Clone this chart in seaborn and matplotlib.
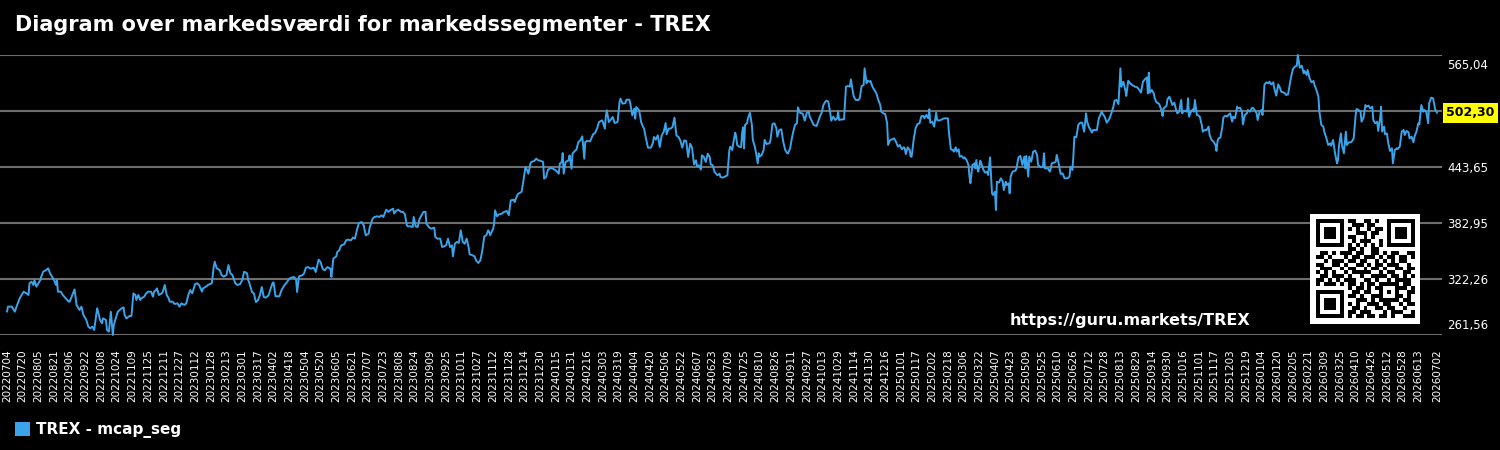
import numpy as np
import pandas as pd
import matplotlib
matplotlib.use("Agg")
import matplotlib.pyplot as plt
import matplotlib.transforms as mtransforms
import seaborn as sns
from matplotlib.patches import Patch

# Market cap readings: (day offset from start, value)
start = pd.Timestamp("2022-07-04")
end = pd.Timestamp("2026-07-02")

seg_1 = [(0, 286.8), (1, 292.3), (5, 292.3), (8, 286.8), (10, 293.0), (13, 301.3), (17, 308.5), (20, 306.7),
         (22, 304.9), (23, 317.6), (25, 319.4), (27, 315.8), (28, 321.2), (30, 313.9), (32, 317.6), (34, 321.2),
         (35, 324.8), (37, 330.2), (40, 332.0), (42, 333.8), (44, 328.4), (46, 324.8), (48, 321.2), (50, 315.8),
         (51, 321.2), (52, 308.5), (55, 308.5), (57, 304.9), (60, 301.3), (63, 297.7), (64, 297.7), (66, 303.1),
         (68, 308.5), (69, 311.0), (71, 294.1), (74, 288.7), (76, 292.3), (78, 283.2), (81, 277.8), (83, 270.6),
         (85, 268.8), (87, 270.6), (89, 267.0), (92, 290.5), (93, 286.8), (95, 277.8), (97, 274.2), (98, 279.6),
         (101, 277.8), (102, 267.0), (104, 265.2), (106, 286.8), (108, 261.56), (109, 272.4), (111, 279.6),
         (113, 286.8), (115, 288.7), (117, 290.5), (119, 291.5), (120, 283.2), (122, 279.6), (125, 282.2),
         (127, 282.2), (129, 306.7), (131, 304.9), (132, 299.5), (134, 304.9), (136, 299.5), (137, 301.3),
         (140, 303.1), (142, 306.7), (144, 308.5), (147, 308.5), (149, 303.1), (150, 308.5), (152, 310.3),
         (153, 312.1), (155, 304.9), (158, 306.7), (159, 308.5), (161, 315.8), (163, 304.9), (165, 301.3),
         (166, 297.7), (169, 297.7), (171, 295.2), (174, 295.9), (176, 292.3), (178, 295.9), (181, 294.1),
         (183, 295.9), (185, 304.9), (187, 310.3), (189, 306.7), (192, 316.8), (194, 317.6), (196, 315.8),
         (199, 308.5), (200, 312.1), (203, 313.9), (205, 315.8), (209, 317.6), (211, 335.6), (212, 341.0),
         (214, 333.8), (217, 332.0), (219, 326.6), (221, 324.8), (224, 326.6), (226, 337.4), (228, 328.4),
         (230, 326.6), (233, 317.6), (235, 315.8), (238, 316.8), (240, 321.2), (242, 330.2), (245, 328.4),
         (246, 321.2)]

seg_2 = [(247, 319.0), (250, 308.2), (252, 306.4), (254, 297.3), (256, 299.1), (258, 304.6), (260, 313.6),
         (262, 302.7), (264, 302.0), (267, 304.6), (269, 311.8), (271, 317.9), (272, 318.6), (274, 303.5),
         (278, 303.5), (280, 310.0), (283, 315.4), (285, 317.9), (288, 322.6), (290, 323.7), (293, 324.4),
         (295, 321.5), (296, 308.2), (298, 325.1), (301, 326.2), (303, 328.0), (305, 334.5), (307, 335.2),
         (310, 333.4), (313, 334.5), (315, 329.8), (318, 343.2), (320, 340.6), (322, 333.4), (324, 331.6),
         (327, 335.2), (330, 333.4), (331, 324.4), (333, 344.3), (336, 346.8), (337, 351.5), (339, 353.3),
         (341, 358.7), (344, 359.8), (346, 364.2), (348, 364.9), (351, 364.2), (353, 367.2), (355, 366.0),
         (357, 375.0), (359, 383.0), (362, 384.0), (364, 380.4), (366, 369.6), (369, 371.4), (370, 377.9),
         (373, 387.6), (375, 389.5), (378, 390.2), (380, 389.5), (382, 391.3), (384, 389.5), (387, 397.4),
         (389, 395.0), (391, 396.7), (394, 398.5), (395, 393.2), (397, 396.0), (399, 397.4), (402, 395.0),
         (404, 395.0), (406, 392.3), (408, 380.4), (409, 379.3), (412, 379.3), (414, 378.6), (415, 389.5),
         (417, 379.3), (419, 378.6), (421, 387.6), (423, 391.3), (425, 395.0), (427, 395.0), (428, 382.2),
         (431, 377.9), (433, 376.8), (436, 377.9), (437, 367.8), (439, 366.0), (442, 366.0), (444, 356.9),
         (446, 357.7), (448, 358.7), (450, 366.0), (452, 356.9), (454, 358.7), (455, 346.8), (457, 360.5),
         (459, 362.4), (461, 361.3), (463, 375.0), (465, 362.4), (467, 360.5), (469, 366.0), (471, 356.9),
         (472, 349.0), (475, 347.9), (477, 346.8), (479, 341.8), (481, 339.6), (483, 342.5), (485, 353.3),
         (487, 368.5), (489, 369.6), (491, 375.0)]

seg_3 = [(492, 373.2), (493, 369.6), (496, 376.8), (497, 382.2), (498, 396.7), (500, 390.2), (502, 392.3),
         (505, 393.1), (507, 394.9), (510, 396.0), (512, 391.3), (514, 407.5), (517, 408.2), (518, 405.7),
         (521, 414.0), (523, 415.5), (525, 416.6), (527, 429.2), (529, 443.6), (530, 441.8), (532, 436.4),
         (534, 447.2), (535, 449.1), (538, 450.2), (540, 452.7), (542, 450.9), (545, 450.2), (547, 449.1),
         (548, 431.0), (550, 432.8), (552, 440.8), (555, 442.9), (557, 441.8), (560, 440.0), (563, 436.4),
         (564, 447.2), (566, 449.1), (567, 458.8), (568, 436.4), (570, 449.1), (573, 450.9), (574, 456.3),
         (576, 441.8), (577, 458.1), (580, 461.7), (581, 462.4), (583, 470.7), (585, 472.5), (587, 476.9),
         (589, 452.7), (590, 470.7), (592, 471.8), (595, 471.5), (598, 479.1), (600, 480.5), (602, 485.2),
         (604, 492.4), (607, 494.2), (608, 492.4), (610, 485.2), (611, 498.6), (612, 505.1), (614, 492.4),
         (616, 494.9), (618, 497.8), (620, 491.3), (623, 492.4), (625, 514.1), (626, 517.7), (628, 512.3),
         (631, 513.0), (632, 516.6), (635, 516.6), (636, 512.3), (638, 499.6), (640, 506.9), (641, 496.0),
         (642, 508.7), (645, 505.1), (647, 492.4), (649, 487.0), (650, 485.2), (652, 474.4), (654, 464.6),
         (657, 464.6), (659, 469.7), (660, 476.2), (662, 473.3), (664, 478.0), (666, 465.3), (668, 478.0),
         (670, 481.6), (672, 491.3), (673, 479.1), (675, 485.2), (677, 485.2), (679, 487.0), (681, 497.1),
         (683, 478.0), (685, 476.2), (687, 472.5), (689, 464.6), (691, 472.5), (693, 471.8), (695, 454.5),
         (697, 468.9), (699, 464.6), (701, 446.5), (703, 450.9), (704, 444.4), (706, 445.5), (708, 440.8),
         (709, 456.3), (711, 454.5), (713, 449.1), (715, 458.1), (717, 454.5), (718, 446.5), (720, 445.5),
         (722, 438.2), (725, 434.6), (727, 436.4), (728, 432.8), (730, 432.1), (733, 433.5), (735, 434.6),
         (737, 461.7)]

seg_4 = [(738, 465.7), (740, 462.1), (741, 469.3), (743, 480.9), (744, 476.5), (745, 467.5), (747, 465.7),
         (749, 465.0), (750, 480.1), (751, 486.6), (752, 463.9), (753, 489.2), (755, 491.0), (756, 496.4),
         (758, 502.5), (760, 489.2), (761, 472.9), (763, 465.7), (764, 460.3), (766, 447.6), (767, 458.5),
         (768, 454.9), (770, 456.7), (772, 462.1), (773, 472.9), (775, 468.6), (778, 469.3), (779, 472.9),
         (781, 490.3), (783, 491.0), (785, 485.6), (786, 476.5), (788, 483.7), (790, 484.5), (792, 471.1),
         (794, 462.1), (796, 458.5), (797, 458.5), (799, 463.9), (801, 475.8), (802, 480.9), (804, 489.2),
         (806, 491.0), (807, 508.3), (809, 502.5), (811, 501.8), (812, 501.1), (814, 493.9), (816, 502.5),
         (818, 503.6), (819, 498.2), (821, 493.9), (823, 489.2), (826, 488.1), (828, 493.9), (830, 500.0),
         (831, 501.8), (833, 510.8), (835, 514.5), (836, 515.5), (838, 514.5), (840, 501.8), (841, 493.9),
         (843, 498.2), (845, 494.6), (847, 496.4), (848, 503.6), (849, 494.6), (852, 495.3), (854, 495.3),
         (856, 530.7), (858, 531.4), (860, 530.7), (861, 538.7), (863, 525.3), (864, 519.9), (866, 516.3),
         (869, 516.3), (870, 518.1), (872, 531.4), (874, 532.5), (875, 550.6), (877, 534.3), (878, 537.2),
         (880, 536.1), (881, 536.9), (883, 530.7), (886, 525.3), (887, 523.5), (889, 516.3), (891, 510.8),
         (892, 503.6), (894, 501.8), (896, 501.1), (898, 491.0), (899, 467.5), (901, 472.9), (903, 473.6),
         (905, 474.7), (907, 471.1), (909, 465.7), (911, 467.5), (913, 462.8), (915, 465.0), (916, 463.9),
         (917, 457.7), (919, 465.0), (921, 462.1), (922, 454.9), (923, 454.9), (925, 472.9), (927, 485.6),
         (929, 490.3), (931, 491.0), (933, 498.9), (935, 498.9), (936, 496.4), (938, 500.0), (940, 496.4),
         (941, 506.2), (942, 491.7), (944, 492.8), (946, 487.4), (947, 494.6), (948, 502.5), (949, 494.6),
         (951, 493.9), (954, 495.3), (956, 496.4), (958, 496.4), (960, 496.4), (961, 481.9), (963, 462.8),
         (965, 462.1), (966, 460.3), (968, 465.0), (969, 460.3), (971, 462.8), (972, 454.9), (974, 455.6),
         (976, 453.0), (977, 454.1), (979, 451.2), (981, 445.8), (982, 433.2)]

seg_5 = [(983, 426.0), (985, 445.8), (987, 447.6), (988, 442.2), (989, 451.2), (990, 442.2), (991, 438.6),
         (993, 450.5), (994, 447.6), (996, 441.1), (998, 437.5), (1000, 438.6), (1001, 435.0), (1003, 454.1),
         (1005, 415.1), (1006, 413.3), (1008, 416.9), (1009, 397.0), (1010, 427.7), (1012, 426.7),
         (1014, 431.4), (1016, 427.7), (1017, 418.7), (1019, 427.7), (1020, 424.1), (1022, 426.0),
         (1023, 415.1), (1024, 433.2), (1026, 438.6), (1029, 439.7), (1030, 442.2), (1032, 454.1),
         (1034, 455.6), (1036, 445.8), (1038, 454.9), (1039, 442.2), (1040, 455.6), (1042, 433.2),
         (1043, 454.9), (1045, 449.4), (1047, 460.3), (1049, 461.4), (1051, 456.7), (1052, 445.8),
         (1055, 443.3), (1057, 444.0), (1058, 458.5), (1059, 442.2), (1062, 442.2), (1064, 438.6),
         (1065, 442.2), (1066, 447.6), (1068, 448.3), (1070, 449.4), (1071, 456.7), (1073, 447.6),
         (1075, 436.1), (1077, 436.8), (1079, 431.4), (1082, 431.4), (1084, 433.2), (1085, 444.0),
         (1087, 440.4), (1088, 454.9), (1089, 476.5), (1091, 475.8), (1093, 489.2), (1095, 491.7),
         (1097, 491.7), (1099, 481.9), (1101, 501.8), (1102, 492.8), (1104, 486.6), (1107, 480.9),
         (1108, 483.7), (1111, 483.7), (1112, 483.7), (1114, 496.4), (1117, 503.6), (1118, 501.1),
         (1120, 498.2), (1122, 491.7), (1124, 494.6), (1125, 496.4), (1127, 502.5), (1129, 509.8),
         (1130, 515.5), (1132, 516.3), (1134, 511.9), (1136, 550.6), (1137, 530.7), (1139, 536.1),
         (1141, 527.1), (1142, 520.6), (1144, 537.2), (1146, 534.3), (1148, 532.5), (1151, 530.7),
         (1153, 530.0), (1155, 527.8), (1157, 524.2), (1159, 536.1), (1161, 538.7), (1163, 540.8),
         (1164, 523.5), (1165, 545.9), (1166, 524.2), (1168, 527.1), (1170, 523.5), (1171, 518.1),
         (1173, 513.4), (1175, 512.6), (1176, 510.8), (1178, 504.7), (1179, 498.9), (1180, 507.2),
         (1183, 509.8), (1184, 517.0), (1186, 519.9), (1187, 517.0), (1189, 510.8), (1191, 513.4),
         (1193, 504.7), (1194, 501.8), (1196, 503.6), (1198, 516.3), (1199, 501.8), (1200, 503.6),
         (1202, 504.7), (1204, 503.6), (1205, 518.1), (1206, 498.2), (1208, 503.6), (1210, 506.2),
         (1211, 503.6), (1212, 516.3), (1214, 500.0), (1215, 500.0), (1217, 498.2), (1219, 489.2),
         (1220, 481.9), (1222, 483.7), (1224, 483.7), (1226, 487.4), (1227, 478.3)]

seg_6 = [(1229, 472.9), (1231, 471.1), (1233, 467.5), (1234, 461.0), (1235, 471.1), (1236, 474.7),
         (1238, 475.4), (1240, 487.4), (1241, 497.1), (1243, 499.3), (1245, 498.2), (1246, 500.0),
         (1248, 501.8), (1250, 492.8), (1251, 498.2), (1253, 496.4), (1255, 509.0), (1256, 507.2),
         (1258, 508.0), (1260, 503.6), (1261, 489.9), (1263, 500.0), (1265, 501.8), (1266, 505.4),
         (1268, 503.6), (1270, 507.2), (1271, 508.0), (1273, 505.4), (1275, 501.8), (1276, 494.6),
         (1278, 503.6), (1280, 505.4), (1281, 500.0), (1283, 533.2), (1285, 535.4), (1287, 534.3),
         (1288, 536.1), (1290, 533.2), (1292, 535.4), (1293, 528.9), (1295, 521.0), (1297, 533.2),
         (1299, 528.9), (1300, 525.3), (1302, 524.6), (1304, 523.5), (1305, 521.7), (1307, 522.4),
         (1309, 534.3), (1310, 540.5), (1312, 549.9), (1314, 552.4), (1316, 553.5), (1317, 565.04),
         (1318, 557.8), (1319, 551.3), (1321, 553.5), (1323, 545.2), (1324, 547.7), (1326, 543.4),
         (1327, 548.8), (1329, 539.8), (1331, 535.4), (1333, 536.9), (1334, 532.5), (1336, 527.1),
         (1338, 519.9), (1339, 503.6), (1341, 489.2), (1343, 487.4), (1344, 481.9), (1346, 475.4),
         (1348, 467.5), (1350, 469.3), (1351, 466.8), (1353, 472.9), (1355, 458.5), (1357, 447.6),
         (1358, 451.2), (1359, 466.8), (1361, 480.1), (1362, 467.5), (1364, 458.5), (1366, 481.9),
         (1367, 467.5), (1369, 470.4), (1371, 470.4), (1372, 471.1), (1374, 474.7), (1376, 500.0),
         (1377, 506.5), (1379, 505.4), (1381, 503.6), (1382, 492.8), (1384, 497.1), (1386, 510.8),
         (1387, 509.0), (1389, 510.1), (1391, 507.2), (1393, 509.0), (1394, 494.6), (1396, 491.0),
         (1398, 492.8), (1399, 482.7), (1401, 496.4), (1402, 509.0), (1403, 481.9), (1405, 487.4),
         (1406, 479.1), (1408, 480.1), (1409, 471.1), (1411, 461.0), (1413, 463.9), (1414, 447.6),
         (1416, 462.1), (1418, 463.9), (1419, 463.2), (1421, 465.7), (1423, 481.9), (1425, 483.7),
         (1426, 478.3), (1428, 482.7), (1430, 481.2), (1431, 474.7), (1433, 476.5), (1435, 470.4),
         (1436, 476.5), (1438, 481.9), (1440, 491.0), (1441, 489.9), (1443, 510.8), (1445, 503.6),
         (1446, 505.4), (1448, 503.6), (1450, 491.0), (1451, 512.7), (1453, 518.8), (1455, 518.1),
         (1456, 512.7), (1457, 506.5), (1459, 502.30)]

title = "Diagram over markedsværdi for markedssegmenter - TREX"
series_name = "TREX - mcap_seg"
url = "https://guru.markets/TREX"
last_value = 502.30

# QR code drawn as module grid (1 = black)
qr_rows = [
    "1111111011001101001111111",
    "1000001001110110001000001",
    "1011101010100101101011101",
    "1011101000111011001011101",
    "1011101011001010001011101",
    "1000001001011100101000001",
    "1111111010101010101111111",
    "0000000011010011000000000",
    "0110101110110011010110011",
    "1101000101101110101101101",
    "0010111011011001010101100",
    "1100110100110101101110010",
    "0111001011001011010011011",
    "1010100101111100101100110",
    "0110111010010011110110101",
    "1101010111001101001011110",
    "1011101011010110111110110",
    "0000000010110101100011101",
    "1111111001101100101010011",
    "1000001011010011100011010",
    "1011101000111010111110110",
    "1011101010100111011001011",
    "1011101001101001101100100",
    "1000001011011100010111001",
    "1111111010110110110100111",
]

line_color = "#3aa3ea"

points = seg_1 + seg_2 + seg_3 + seg_4 + seg_5 + seg_6
df = pd.DataFrame(points, columns=["day", "value"])
df["date"] = start + pd.to_timedelta(df["day"], unit="D")

sns.set_style("dark", {"axes.facecolor": "black", "figure.facecolor": "black"})
plt.rcParams["font.family"] = ["DejaVu Sans"]

fig = plt.figure(figsize=(15, 4.5), dpi=100, facecolor="black")
ax = fig.add_axes([0, 115 / 450, 1442 / 1500, 280 / 450])
ax.set_facecolor("black")

sns.lineplot(data=df, x="date", y="value", ax=ax, color=line_color, linewidth=1.4,
             estimator=None, legend=False, clip_on=False, zorder=3)

# y axis: exact data range split in 5
ymin, ymax = df["value"].min(), df["value"].max()
yticks = np.linspace(ymin, ymax, 6)
ax.set_ylim(ymin, ymax)
ax.set_yticks(yticks)
ylabels = []
for t in yticks:
    if abs(t - last_value) < (ymax - ymin) / 20:
        ylabels.append("")
    else:
        ylabels.append(f"{t:.2f}".replace(".", ","))
ax.set_yticklabels(ylabels)
ax.yaxis.tick_right()
ax.tick_params(axis="y", length=0, pad=4, labelsize=8.5, colors="white")
tl = ax.get_yticklabels()
tl[0].set_va("bottom")
tl[0].set_transform(tl[0].get_transform()
                    + mtransforms.ScaledTranslation(0, 3 / 100, fig.dpi_scale_trans))
tl[-1].set_va("top")
tl[-1].set_transform(tl[-1].get_transform()
                     + mtransforms.ScaledTranslation(0, -4 / 100, fig.dpi_scale_trans))

# x axis: every 16 days, the last one replaced by the end date
tick_dates = list(pd.date_range(start, end, freq="16D"))
if (end - tick_dates[-1]).days < 8:
    tick_dates[-1] = end
elif tick_dates[-1] != end:
    tick_dates.append(end)
ax.set_xticks(tick_dates)
ax.set_xticklabels([d.strftime("%Y%m%d") for d in tick_dates], rotation=90)
ax.tick_params(axis="x", length=0, pad=10, labelsize=7.5, colors="white")
ax.set_xlim(start - pd.Timedelta(days=7.1), end + pd.Timedelta(days=5.1))
ax.set_xlabel("")
ax.set_ylabel("")

ax.grid(axis="y", color="#6e6e6e", linewidth=1.5)
ax.grid(axis="x", visible=False)
for s in ax.spines.values():
    s.set_visible(False)

# last value marker
ax.text(1.003, last_value, f"{last_value:.2f}".replace(".", ","),
        transform=ax.get_yaxis_transform(), ha="left", va="center",
        fontsize=9, fontweight="bold", color="black", zorder=5, clip_on=False,
        bbox=dict(boxstyle="square,pad=0.25", facecolor="#ffff00", edgecolor="none"))

fig.text(15 / 1500, 1 - 25 / 450, title, fontsize=15, fontweight="bold", color="white",
         ha="left", va="center")

fig.legend(handles=[Patch(facecolor=line_color, edgecolor="none", label=series_name)],
           loc="center left", bbox_to_anchor=(15 / 1500, 1 - 430 / 450), frameon=False,
           prop={"weight": "bold", "size": 11}, labelcolor="white",
           handlelength=1.0, handleheight=1.0, handletextpad=0.4,
           borderpad=0, borderaxespad=0)

fig.text(1250 / 1500, 1 - 320 / 450, url, fontsize=11.5, fontweight="bold", color="white",
         ha="right", va="center")

# QR code
qr = np.array([[int(c) for c in row] for row in qr_rows])
qr_ax = fig.add_axes([1310 / 1500, 1 - 324 / 450, 110 / 1500, 110 / 450])
qr_ax.set_facecolor("white")
qr_ax.imshow(qr, cmap="Greys", vmin=0, vmax=1, extent=(0, 25, 25, 0),
             interpolation="nearest", aspect="auto")
qr_ax.set_xlim(-1.4, 26.4)
qr_ax.set_ylim(26.4, -1.4)
qr_ax.set_xticks([])
qr_ax.set_yticks([])
for s in qr_ax.spines.values():
    s.set_visible(False)

fig.savefig("out.png", dpi=100, facecolor="black")
